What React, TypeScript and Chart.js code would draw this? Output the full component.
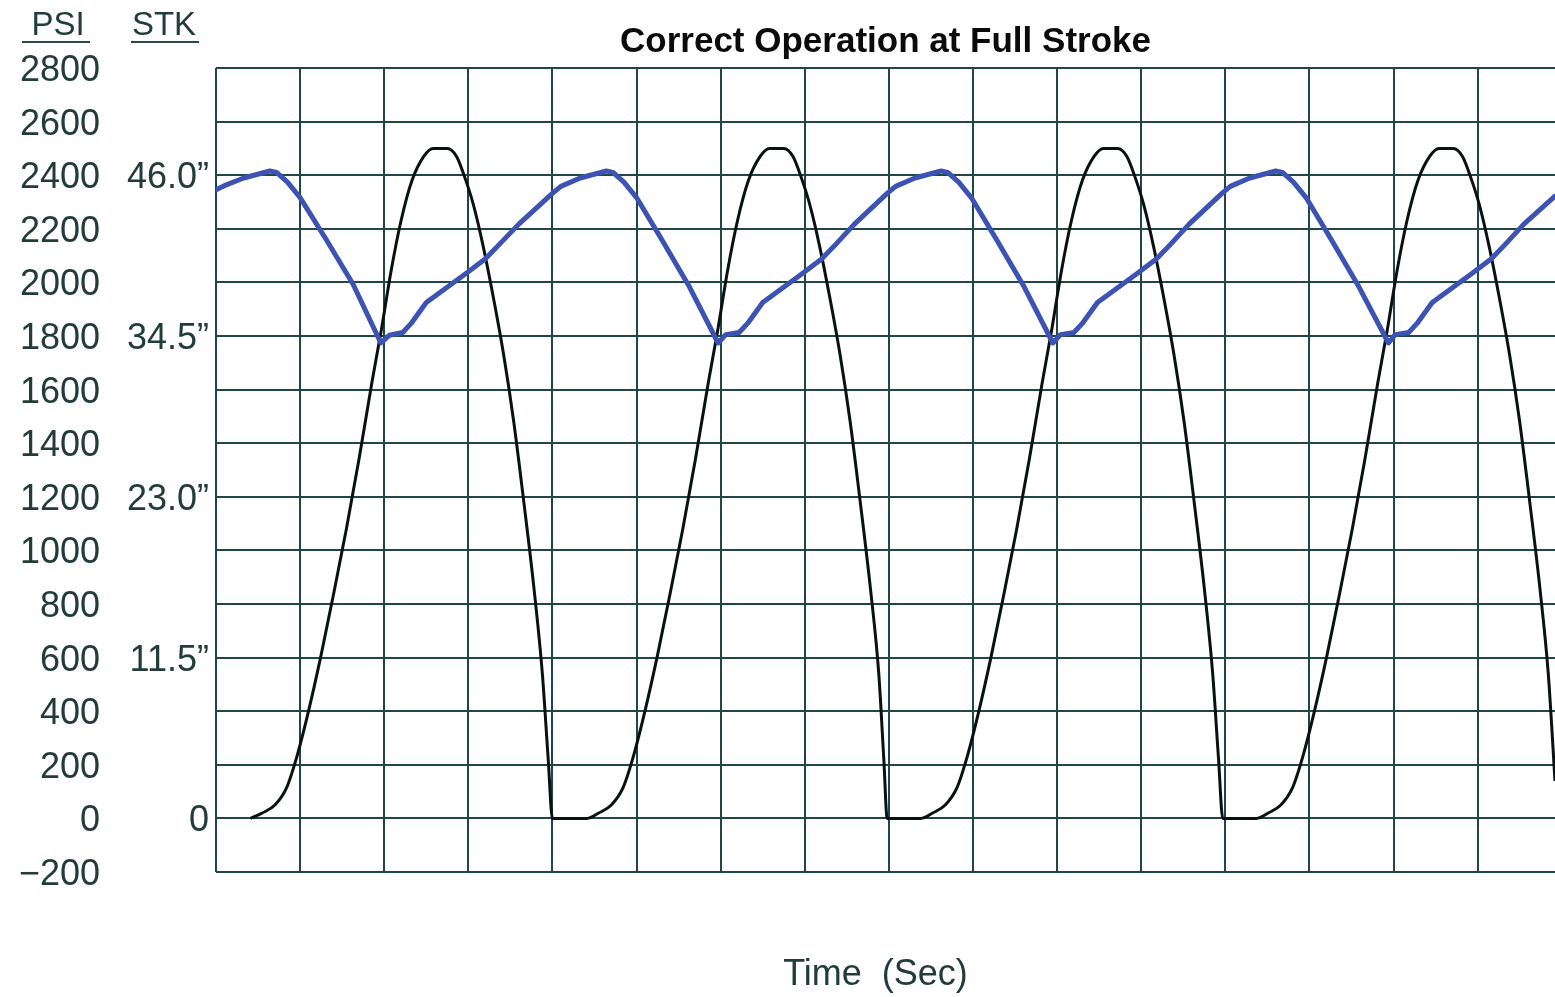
import React, { useEffect, useRef } from "react";
import { Chart, registerables } from "chart.js";

Chart.register(...registerables);

// ---- Data ----
const psiTicks = [-200, 0, 200, 400, 600, 800, 1000, 1200, 1400, 1600, 1800, 2000, 2200, 2400, 2600, 2800];
const stkTicks = [0, 11.5, 23.0, 34.5, 46.0];
const timeGrid = [0, 1, 2, 3, 4, 5, 6, 7, 8, 9, 10, 11, 12, 13, 14, 15];

const pressureTime = [
  0.41, 0.55, 0.70, 0.84, 0.97, 1.10, 1.25, 1.40, 1.55, 1.70, 1.85, 1.97, 2.08, 2.20, 2.33, 2.47, 2.58, 2.75, 2.86, 2.96, 3.06, 3.18, 3.30, 3.42, 3.54, 3.66, 3.78, 3.88, 3.95, 4.00,
  4.41, 4.55, 4.70, 4.84, 4.97, 5.10, 5.25, 5.40, 5.55, 5.70, 5.85, 5.97, 6.08, 6.20, 6.33, 6.47, 6.58, 6.75, 6.86, 6.96, 7.06, 7.18, 7.30, 7.42, 7.54, 7.66, 7.78, 7.88, 7.94, 7.98,
  8.38, 8.52, 8.67, 8.81, 8.94, 9.07, 9.22, 9.37, 9.52, 9.67, 9.82, 9.94, 10.05, 10.17, 10.30, 10.44, 10.55, 10.72, 10.83, 10.93, 11.03, 11.15, 11.27, 11.39, 11.51, 11.63, 11.75, 11.85, 11.92, 11.97,
  12.37, 12.51, 12.66, 12.80, 12.93, 13.06, 13.21, 13.36, 13.51, 13.66, 13.81, 13.93, 14.04, 14.16, 14.29, 14.43, 14.54, 14.71, 14.82, 14.92, 15.02, 15.14, 15.26, 15.38, 15.50, 15.62, 15.74, 15.84, 15.92,
];
const pressurePsi = [
  0, 20, 50, 115, 240, 400, 610, 840, 1080, 1340, 1620, 1830, 2040, 2230, 2380, 2470, 2500, 2500, 2470, 2390, 2290, 2130, 1940, 1730, 1480, 1180, 860, 540, 220, 0,
  0, 20, 50, 115, 240, 400, 610, 840, 1080, 1340, 1620, 1830, 2040, 2230, 2380, 2470, 2500, 2500, 2470, 2390, 2290, 2130, 1940, 1730, 1480, 1180, 860, 540, 220, 0,
  0, 20, 50, 115, 240, 400, 610, 840, 1080, 1340, 1620, 1830, 2040, 2230, 2380, 2470, 2500, 2500, 2470, 2390, 2290, 2130, 1940, 1730, 1480, 1180, 860, 540, 220, 0,
  0, 20, 50, 115, 240, 400, 610, 840, 1080, 1340, 1620, 1830, 2040, 2230, 2380, 2470, 2500, 2500, 2470, 2390, 2290, 2130, 1940, 1730, 1480, 1180, 860, 540, 140,
];

const strokeTime = [
  0.00, 0.10, 0.33, 0.64, 0.72, 0.85, 1.00, 1.31, 1.63, 1.96, 2.06, 2.22, 2.32, 2.50, 2.98, 3.20, 3.36, 3.60, 4.00,
  4.10, 4.33, 4.64, 4.72, 4.85, 5.00, 5.31, 5.63, 5.97, 6.06, 6.22, 6.32, 6.50, 6.98, 7.20, 7.36, 7.59, 7.98,
  8.08, 8.31, 8.62, 8.70, 8.83, 8.98, 9.29, 9.61, 9.95, 10.04, 10.20, 10.30, 10.48, 10.96, 11.18, 11.34, 11.57, 11.96,
  12.06, 12.29, 12.60, 12.68, 12.81, 12.96, 13.27, 13.59, 13.94, 14.02, 14.18, 14.28, 14.46, 14.94, 15.16, 15.32, 15.55, 15.92,
];
const strokeInches = [
  44.95, 45.25, 45.80, 46.30, 46.20, 45.50, 44.40, 41.40, 38.20, 34.00, 34.55, 34.75, 35.40, 36.90, 39.00, 40.00, 41.00, 42.50, 44.70,
  45.20, 45.80, 46.30, 46.20, 45.50, 44.40, 41.30, 38.00, 34.00, 34.60, 34.75, 35.40, 36.90, 39.00, 40.00, 41.00, 42.50, 44.70,
  45.20, 45.80, 46.30, 46.20, 45.50, 44.40, 41.30, 38.00, 34.00, 34.60, 34.75, 35.40, 36.90, 39.00, 40.00, 41.00, 42.50, 44.70,
  45.20, 45.80, 46.30, 46.20, 45.50, 44.40, 41.30, 38.00, 34.00, 34.60, 34.75, 35.40, 36.90, 39.00, 40.00, 41.00, 42.50, 44.50,
];

// ---- Styling ----
const FONT = "'Liberation Sans', Arial, Helvetica, sans-serif";
const GRID = "#1f4743";
const LABEL = "#213c39";
const PSI_MIN = -200;
const PSI_MAX = 2800;
const STK_PER_PSI = 46 / 2400;

const headerPlugin = {
  id: "colHeaders",
  afterDraw(chart: any) {
    const ctx = chart.ctx;
    ctx.save();
    ctx.fillStyle = LABEL;
    ctx.strokeStyle = "#2b4a47";
    ctx.lineWidth = 2;
    ctx.font = `33px ${FONT}`;
    ctx.textAlign = "center";
    ctx.textBaseline = "alphabetic";
    ctx.fillText("PSI", 58, 35);
    ctx.fillText("STK", 164, 35);
    ctx.beginPath();
    ctx.moveTo(22, 42);
    ctx.lineTo(90, 42);
    ctx.moveTo(131, 42);
    ctx.lineTo(199, 42);
    ctx.stroke();
    ctx.restore();
  },
};

export default function App() {
  const canvasRef = useRef<HTMLCanvasElement | null>(null);

  useEffect(() => {
    if (!canvasRef.current) return;
    const chart = new Chart(canvasRef.current, {
      type: "line",
      data: {
        datasets: [
          {
            label: "Stroke",
            data: strokeTime.map((t, i) => ({ x: t, y: strokeInches[i] })),
            yAxisID: "stk",
            borderColor: "#3c53b3",
            borderWidth: 5,
            pointRadius: 0,
            tension: 0,
            borderJoinStyle: "round",
            borderCapStyle: "round",
            fill: false,
          },
          {
            label: "Pressure",
            data: pressureTime.map((t, i) => ({ x: t, y: pressurePsi[i] })),
            yAxisID: "psi",
            borderColor: "#0a1211",
            borderWidth: 3,
            pointRadius: 0,
            cubicInterpolationMode: "monotone",
            fill: false,
          },
        ],
      },
      options: {
        animation: false,
        responsive: true,
        maintainAspectRatio: false,
        layout: { padding: 0 },
        plugins: {
          legend: { display: false },
          tooltip: { enabled: false },
          title: {
            display: true,
            text: "Correct Operation at Full Stroke",
            fullSize: false,
            color: "#0b0b0b",
            font: { family: FONT, size: 35, weight: "bold", lineHeight: 1.2 },
            padding: { top: 21, bottom: 5 },
          },
        },
        scales: {
          x: {
            type: "linear",
            min: 0,
            max: 15.92,
            afterBuildTicks: (s: any) => {
              s.ticks = timeGrid.map((v) => ({ value: v }));
            },
            afterFit: (s: any) => {
              s.height = 125;
            },
            ticks: { display: false },
            grid: { color: GRID, lineWidth: 2, drawTicks: false },
            border: { display: false },
            title: {
              display: true,
              text: "Time  (Sec)  ",
              color: LABEL,
              font: { family: FONT, size: 36, lineHeight: 1 },
              padding: { top: 4, bottom: 4 },
            },
          },
          psi: {
            type: "linear",
            position: "left",
            weight: 2,
            min: PSI_MIN,
            max: PSI_MAX,
            afterBuildTicks: (s: any) => {
              s.ticks = psiTicks.map((v) => ({ value: v }));
            },
            afterFit: (s: any) => {
              s.width = 110;
            },
            ticks: {
              color: LABEL,
              font: { family: FONT, size: 36 },
              padding: 10,
              labelOffset: 3,
              callback: (v: any) => (Number(v) < 0 ? "\u2212" + Math.abs(Number(v)) : String(v)),
            },
            grid: { color: GRID, lineWidth: 2, drawTicks: false },
            border: { display: false },
          },
          stk: {
            type: "linear",
            position: "left",
            weight: 1,
            min: PSI_MIN * STK_PER_PSI,
            max: PSI_MAX * STK_PER_PSI,
            afterBuildTicks: (s: any) => {
              s.ticks = stkTicks.map((v) => ({ value: v }));
            },
            afterFit: (s: any) => {
              s.width = 106;
            },
            ticks: {
              color: LABEL,
              font: { family: FONT, size: 36 },
              padding: 7,
              labelOffset: 3,
              callback: (v: any) => (Number(v) === 0 ? "0" : Number(v).toFixed(1) + "\u201D"),
            },
            grid: { display: false, drawTicks: false },
            border: { display: false },
          },
        },
      },
      plugins: [headerPlugin],
    } as any);
    return () => chart.destroy();
  }, []);

  return (
    <div style={{ position: "absolute", left: 0, top: 0, width: 1555, height: 997, background: "#ffffff" }}>
      <canvas ref={canvasRef} />
    </div>
  );
}
